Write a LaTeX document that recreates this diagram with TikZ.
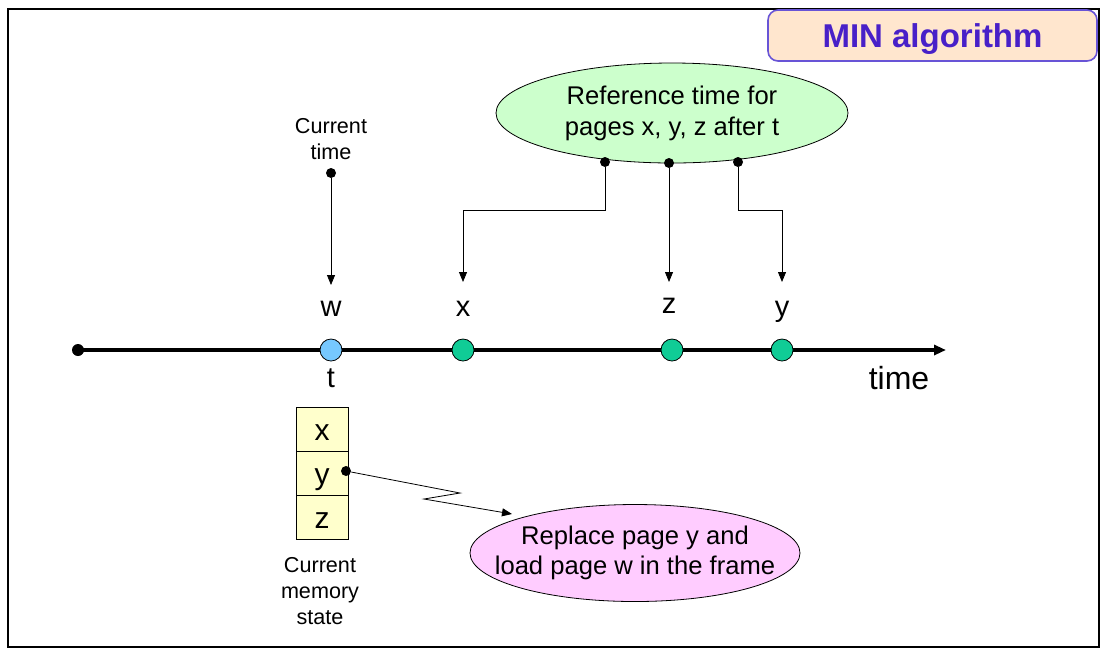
\documentclass[tikz,border=0pt]{standalone}
\usepackage{fontspec}
\setmainfont{Liberation Sans}
\usetikzlibrary{positioning,shapes,arrows.meta}
\definecolor{titletext}{RGB}{72,32,200}
\definecolor{titleline}{RGB}{104,84,214}
\definecolor{titlefill}{RGB}{255,230,206}
\definecolor{nowblue}{RGB}{118,200,255}
\definecolor{refgreen}{RGB}{16,204,150}
\definecolor{notegreen}{RGB}{204,255,204}
\definecolor{notepink}{RGB}{255,204,255}
\definecolor{cellyellow}{RGB}{255,255,204}

\begin{document}
\begin{tikzpicture}[x=0.5pt, y=-0.5pt,
		tip/.style={thin,-{Triangle[length=5pt,width=4pt]}},
		dot/.style={circle,fill,inner sep=0pt,minimum size=5pt}]
		\useasboundingbox (0,0) rectangle (1111,655);
		\draw[line width=0.7pt] (8,9) rectangle (1099,647);
		\node[draw=titleline, fill=titlefill, rounded corners=5pt, thick,
			minimum width=164.5pt, minimum height=25.5pt, text depth=0pt,
			text=titletext, font=\fontsize{16.5}{18}\selectfont\bfseries]
			(title) at (932.5,35.5) {MIN algorithm};

		% time line
		\coordinate (start) at (78,350);
		\coordinate (tend) at (946,350);
		\draw[line width=1.6pt,-{Triangle[length=6pt,width=5pt]}] (start) -- (tend);
		\node[dot, minimum size=6pt] (s0) at (start) {};
		\begin{scope}[every node/.style={circle,draw,thin,minimum size=11pt,inner sep=0pt}]
			\node[fill=nowblue] (t) at (331,350) {};
			\node[fill=refgreen] (px) at (463,350) {};
			\node[fill=refgreen] (pz) at (672,350) {};
			\node[fill=refgreen] (py) at (782,350) {};
		\end{scope}
		\begin{scope}[every node/.style={text depth=0pt,font=\fontsize{14.5}{16}\selectfont}]
			\node (lw) at (331,309) {w};
			\node (lx) at (463,309) {x};
			\node (lz) at (669,306) {z};
			\node (ly) at (782,309) {y};
			\node (lt) at (331,378) {t};
		\end{scope}
		\node[font=\fontsize{16}{18}\selectfont] (ltime) at (899,378) {time};

		% current time
		\node[align=center, font=\fontsize{10.8}{13}\selectfont] (now) at (331,139) {Current\\time};
		\node[dot] (nowdot) at (331,173) {};
		\coordinate (aw) at (331,285);
		\draw[tip] (nowdot) -- (aw);

		% reference times
		\node[ellipse, draw, thin, fill=notegreen, minimum width=176pt, minimum height=50pt,
			align=center, inner sep=0pt, font=\fontsize{12.8}{15.5}\selectfont]
			(ref) at (672,113) {Reference time for\\pages x, y, z after t};
		\node[dot] (rx) at (605,162) {};
		\node[dot] (rz) at (669,163) {};
		\node[dot] (ry) at (738,162) {};
		\coordinate (ax) at (463,282);
		\coordinate (az) at (669,282);
		\coordinate (ay) at (782,282);
		\draw[tip] (rx) |- (533,210) -| (ax);
		\draw[tip] (rz) -- (az);
		\draw[tip] (ry) |- (760,210) -| (ay);

		% memory state
		\begin{scope}[every node/.style={draw,thin,fill=cellyellow,minimum width=26pt,
				minimum height=22pt,inner sep=0pt,text height=11pt,text depth=0pt,
				font=\fontsize{15}{17}\selectfont}]
			\node (mx) at (322,429) {x};
			\node (my) at (322,473) {y};
			\node (mz) at (322,517) {z};
		\end{scope}
		\node[align=center, font=\fontsize{10.8}{13}\selectfont] (mem) at (320,591) {Current\\memory\\state};

		% replacement
		\node[ellipse, draw, thin, fill=notepink, minimum width=165pt, minimum height=48.5pt,
			align=center, inner xsep=-14pt, inner ysep=0pt, font=\fontsize{12.8}{15}\selectfont]
			(repl) at (635,553) {Replace page y and\\load page w in the frame};
		\node[dot] (ydot) at (346,471) {};
		\coordinate (ar) at (512,514);
		\draw[tip] (ydot) -- (460,493) -- (424,499) -- (ar);
	\end{tikzpicture}
\end{document}
